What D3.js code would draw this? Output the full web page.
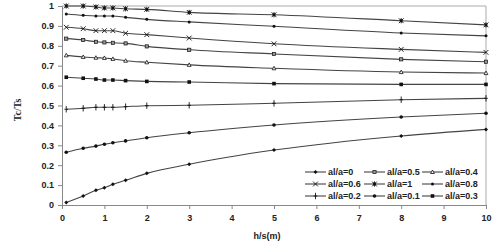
<!DOCTYPE html>
<html>
<head>
<meta charset="utf-8">
<script src="https://cdn.jsdelivr.net/npm/d3@7"></script>
<style>
  body { margin: 0; background: #fff; }
  svg { display: block; font-family: Arial, "Liberation Sans", sans-serif; }
</style>
</head>
<body>
<div id="chart"></div>
<script>
// datos
var hs = [0.1, 0.5, 0.8, 1, 1.2, 1.5, 2, 3, 5, 8, 10];
var names = ['al/a=0', 'al/a=0.5', 'al/a=0.4', 'al/a=0.6', 'al/a=1', 'al/a=0.8', 'al/a=0.2', 'al/a=0.1', 'al/a=0.3'];
var a0   = [0.012, 0.045, 0.074, 0.087, 0.104, 0.124, 0.159, 0.205, 0.276, 0.347, 0.380];
var a05  = [0.836, 0.829, 0.820, 0.817, 0.815, 0.812, 0.797, 0.780, 0.759, 0.732, 0.720];
var a04  = [0.752, 0.744, 0.740, 0.739, 0.734, 0.725, 0.717, 0.704, 0.687, 0.668, 0.663];
var a06  = [0.893, 0.886, 0.876, 0.876, 0.876, 0.863, 0.856, 0.839, 0.810, 0.782, 0.767];
var a1   = [1.000, 1.000, 0.995, 0.990, 0.990, 0.986, 0.983, 0.968, 0.956, 0.926, 0.905];
var a08  = [0.960, 0.953, 0.950, 0.950, 0.950, 0.943, 0.933, 0.920, 0.898, 0.864, 0.850];
var a02  = [0.481, 0.486, 0.491, 0.491, 0.491, 0.494, 0.499, 0.501, 0.511, 0.529, 0.536];
var a01  = [0.265, 0.285, 0.296, 0.305, 0.313, 0.322, 0.338, 0.363, 0.402, 0.442, 0.461];
var a03  = [0.642, 0.637, 0.633, 0.628, 0.628, 0.625, 0.621, 0.618, 0.610, 0.606, 0.606];
var xTicks = [0, 1, 2, 3, 4, 5, 6, 7, 8, 9, 10];
var yTicks = [0, 0.1, 0.2, 0.3, 0.4, 0.5, 0.6, 0.7, 0.8, 0.9, 1];

var seriesValues = [a0, a05, a04, a06, a1, a08, a02, a01, a03];
var markers = ['diamond', 'opensquare', 'triangle', 'x', 'star', 'smalldot', 'plus', 'dot', 'square'];

var width = 500, height = 245;
var svg = d3.select('#chart').append('svg')
    .attr('width', width)
    .attr('height', height);

var x = d3.scaleLinear().domain([0, 10]).range([62, 486]);
var y = d3.scaleLinear().domain([0, 1]).range([205, 6]);

// borde del area de dibujo (arriba y derecha)
svg.append('path')
    .attr('d', 'M' + x(0) + ',' + y(1) + 'H' + x(10) + 'V' + y(0))
    .attr('fill', 'none')
    .attr('stroke', '#aaa')
    .attr('stroke-width', 1);

var xAxis = svg.append('g')
    .attr('transform', 'translate(0,' + y(0) + ')')
    .call(d3.axisBottom(x).tickValues(xTicks).tickFormat(d3.format('d')).tickSize(4).tickPadding(6));
var yAxis = svg.append('g')
    .attr('transform', 'translate(' + x(0) + ',0)')
    .call(d3.axisLeft(y).tickValues(yTicks).tickFormat((d) => d === 0 || d === 1 ? d : d3.format('.1f')(d)).tickSize(4).tickPadding(4));

[xAxis, yAxis].forEach(function(g) {
    g.select('.domain').attr('stroke', '#888');
    g.selectAll('.tick line').attr('stroke', '#888');
    g.selectAll('text')
        .attr('font-size', 9)
        .attr('font-weight', 'bold')
        .attr('font-family', 'Arial, "Liberation Sans", sans-serif')
        .attr('fill', '#222');
});

// titulos de los ejes
svg.append('text')
    .attr('transform', 'translate(21,110) rotate(-90)')
    .attr('text-anchor', 'middle')
    .attr('font-family', '"Liberation Serif", "DejaVu Serif", serif')
    .attr('font-weight', 'bold')
    .attr('font-size', 10)
    .attr('fill', '#222')
    .text('Tc/Ts');

svg.append('text')
    .attr('x', 267)
    .attr('y', 239)
    .attr('text-anchor', 'middle')
    .attr('font-weight', 'bold')
    .attr('font-size', 9)
    .attr('fill', '#222')
    .text('h/s(m)');

function drawMarker(g, type, cx, cy) {
    var c = '#111';
    if (type === 'diamond') {
        g.append('path').attr('d', 'M' + cx + ',' + (cy - 2) + 'L' + (cx + 2) + ',' + cy + 'L' + cx + ',' + (cy + 2) + 'L' + (cx - 2) + ',' + cy + 'Z').attr('fill', c);
    } else if (type === 'opensquare') {
        g.append('rect').attr('x', cx - 1.6).attr('y', cy - 1.6).attr('width', 3.2).attr('height', 3.2).attr('fill', '#999').attr('stroke', c).attr('stroke-width', 0.7);
    } else if (type === 'triangle') {
        g.append('path').attr('d', 'M' + cx + ',' + (cy - 2) + 'L' + (cx + 1.9) + ',' + (cy + 1.5) + 'L' + (cx - 1.9) + ',' + (cy + 1.5) + 'Z').attr('fill', '#fff').attr('stroke', c).attr('stroke-width', 0.8);
    } else if (type === 'x') {
        g.append('path').attr('d', 'M' + (cx - 2.4) + ',' + (cy - 2.4) + 'L' + (cx + 2.4) + ',' + (cy + 2.4) + 'M' + (cx + 2.4) + ',' + (cy - 2.4) + 'L' + (cx - 2.4) + ',' + (cy + 2.4)).attr('stroke', c).attr('stroke-width', 0.9);
    } else if (type === 'star') {
        g.append('path').attr('d', 'M' + (cx - 2.4) + ',' + (cy - 2.4) + 'L' + (cx + 2.4) + ',' + (cy + 2.4) + 'M' + (cx + 2.4) + ',' + (cy - 2.4) + 'L' + (cx - 2.4) + ',' + (cy + 2.4) + 'M' + cx + ',' + (cy - 2.6) + 'V' + (cy + 2.6)).attr('stroke', c).attr('stroke-width', 0.9);
        g.append('rect').attr('x', cx - 1.4).attr('y', cy - 1.4).attr('width', 2.8).attr('height', 2.8).attr('fill', c);
    } else if (type === 'smalldot') {
        g.append('circle').attr('cx', cx).attr('cy', cy).attr('r', 1.5).attr('fill', c);
    } else if (type === 'plus') {
        g.append('path').attr('d', 'M' + cx + ',' + (cy - 3.2) + 'V' + (cy + 3.2) + 'M' + (cx - 1.8) + ',' + cy + 'H' + (cx + 1.8)).attr('stroke', c).attr('stroke-width', 0.9);
    } else if (type === 'dot') {
        g.append('circle').attr('cx', cx).attr('cy', cy).attr('r', 1.8).attr('fill', c);
    } else if (type === 'square') {
        g.append('rect').attr('x', cx - 1.8).attr('y', cy - 1.8).attr('width', 3.6).attr('height', 3.6).attr('fill', c);
    }
}

var line = d3.line()
    .x((d) => x(d[0]))
    .y((d) => y(d[1]))
    .curve(d3.curveMonotoneX);

seriesValues.forEach(function(vals, i) {
    var pts = hs.map((h, j) => [h, vals[j]]);
    var g = svg.append('g');
    g.append('path')
        .attr('d', line(pts))
        .attr('fill', 'none')
        .attr('stroke', '#444')
        .attr('stroke-width', 1.1);
    pts.forEach(function(p) {
        drawMarker(g, markers[i], x(p[0]), y(p[1]));
    });
});

// leyenda
var colX = [305, 364, 422];
var rowY = [172, 184, 196];
names.forEach(function(name, i) {
    var lx = colX[i % 3];
    var ly = rowY[Math.floor(i / 3)];
    var g = svg.append('g');
    g.append('line')
        .attr('x1', lx).attr('x2', lx + 21)
        .attr('y1', ly).attr('y2', ly)
        .attr('stroke', '#444').attr('stroke-width', 1.1);
    drawMarker(g, markers[i], lx + 10.5, ly);
    g.append('text')
        .attr('x', lx + 23)
        .attr('y', ly + 3.2)
        .attr('font-size', 9)
        .attr('font-weight', 'bold')
        .attr('fill', '#222')
        .text(name);
});
</script>
</body>
</html>
